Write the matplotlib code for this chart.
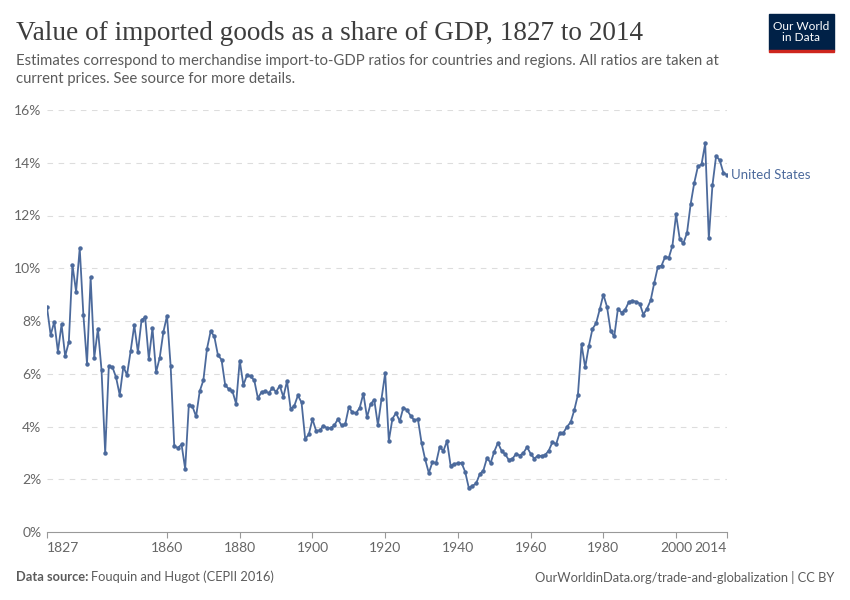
import numpy as np
import matplotlib.pyplot as plt
from matplotlib.patches import Rectangle

# US imports as share of GDP (%), one value per year 1827-2014
years = np.arange(1827, 2015)
values = [
    8.52, 7.47, 7.97,
    6.84, 7.87, 6.67, 7.20, 10.13, 9.11, 10.76, 8.24, 6.38, 9.65,
    6.61, 7.71, 6.13, 2.99, 6.29, 6.25, 5.86, 5.19, 6.27, 5.95,
    6.86, 7.84, 6.82, 8.04, 8.14, 6.56, 7.73, 6.06, 6.61, 7.58,
    8.20, 6.30, 3.25, 3.19, 3.32, 2.39, 4.82, 4.76, 4.38, 5.34,
    5.75, 6.95, 7.61, 7.42, 6.71, 6.53, 5.57, 5.42, 5.34, 4.86,
    6.50, 5.57, 5.95, 5.90, 5.75, 5.07, 5.31, 5.33, 5.27, 5.46,
    5.31, 5.55, 5.12, 5.72, 4.67, 4.78, 5.18, 4.91, 3.53, 3.70,
    4.28, 3.84, 3.85, 4.03, 3.94, 3.94, 4.04, 4.28, 4.04, 4.08,
    4.73, 4.54, 4.51, 4.71, 5.25, 4.35, 4.86, 5.01, 4.05, 5.06,
    6.03, 3.46, 4.30, 4.51, 4.20, 4.72, 4.62, 4.41, 4.23, 4.28,
    3.38, 2.75, 2.24, 2.65, 2.62, 3.23, 3.07, 3.45, 2.51, 2.58,
    2.61, 2.62, 2.28, 1.67, 1.75, 1.84, 2.19, 2.33, 2.81, 2.62,
    3.05, 3.38, 3.08, 2.95, 2.73, 2.78, 2.96, 2.90, 2.99, 3.22,
    2.97, 2.78, 2.90, 2.88, 2.92, 3.09, 3.41, 3.33, 3.76, 3.76,
    3.99, 4.16, 4.62, 5.20, 7.11, 6.24, 7.05, 7.70, 7.91, 8.44,
    9.00, 8.54, 7.62, 7.42, 8.46, 8.32, 8.43, 8.72, 8.77, 8.73,
    8.66, 8.24, 8.47, 8.78, 9.45, 10.06, 10.10, 10.44, 10.40, 10.86,
    12.04, 11.11, 10.94, 11.34, 12.43, 13.24, 13.86, 13.94, 14.73, 11.13,
    13.15, 14.25, 14.10, 13.62, 13.54,
]
xticks = [1827, 1860, 1880, 1900, 1920, 1940, 1960, 1980, 2000, 2014]
yticks = [0, 2, 4, 6, 8, 10, 12, 14, 16]
country = 'United States'

line_col = '#4c6a9c'
plt.rcParams['font.family'] = ['Lato', 'DejaVu Sans']

fig = plt.figure(figsize=(8.5, 6), dpi=100)
ax = fig.add_axes([47/850, 1-532/600, 680/850, 422/600])

ax.plot(years, values, color=line_col, lw=1.3, marker='o', ms=2.2, zorder=3)
ax.annotate(country, (years[-1], values[-1]), xytext=(3, 0), textcoords='offset points',
            va='center', ha='left', fontsize=9.5, color=line_col)

ax.set_xlim(1827, 2014)
ax.set_ylim(0, 16)
ax.set_xticks(xticks)
ax.set_yticks(yticks)
ax.set_yticklabels([f'{v}%' for v in yticks])
labs = ax.get_xticklabels()
labs[0].set_ha('left')
labs[-1].set_ha('right')
for s in ['top', 'right', 'left']:
    ax.spines[s].set_visible(False)
ax.spines['bottom'].set_color('#999999')
ax.spines['bottom'].set_linewidth(0.8)
ax.tick_params(axis='x', colors='#999999', length=4, width=0.8, labelcolor='#666666', labelsize=10, pad=3)
ax.tick_params(axis='y', length=0, labelcolor='#666666', labelsize=10, pad=4)
for y in yticks[1:]:
    ax.axhline(y, color='#dddddd', lw=0.8, ls=(0, (5, 5)), zorder=1)

# header
fig.text(16/850, 1-33/600, 'Value of imported goods as a share of GDP, 1827 to 2014',
         family='Liberation Serif', fontsize=19.6, color='#3d3d3d', va='center')
fig.text(16/850, 1-70/600,
         'Estimates correspond to merchandise import-to-GDP ratios for countries and regions. All ratios are taken at\n'
         'current prices. See source for more details.',
         fontsize=10.7, color='#5b5b5b', va='center', linespacing=1.3)

# logo
fig.patches.append(Rectangle((769/850, 1-50/600), 65/850, 36/600, transform=fig.transFigure,
                             color='#002147', zorder=5))
fig.patches.append(Rectangle((769/850, 1-52/600), 65/850, 2.5/600, transform=fig.transFigure,
                             color='#ce261e', zorder=5))
fig.text(801.5/850, 1-32/600, 'Our World\nin Data', ha='center', va='center', color='white',
         fontsize=8.6, linespacing=1.1, zorder=6)

# footer
fig.text(16/850, 1-577/600, 'Data source:', fontsize=9.3, color='#5b5b5b', weight='bold', va='center')
fig.text(91/850, 1-577/600, 'Fouquin and Hugot (CEPII 2016)', fontsize=9.3, color='#5b5b5b', va='center')
fig.text(834/850, 1-577/600, 'OurWorldinData.org/trade-and-globalization | CC BY', fontsize=9.3,
         color='#5b5b5b', va='center', ha='right')

fig.savefig('out.png', dpi=100)
